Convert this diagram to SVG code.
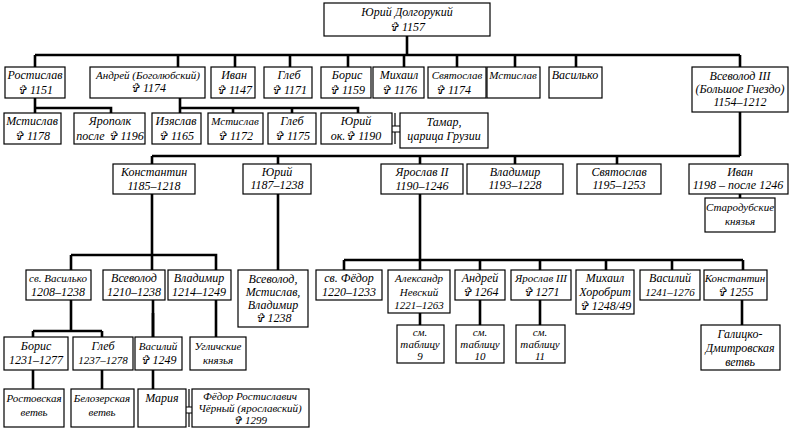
<svg xmlns="http://www.w3.org/2000/svg" width="789" height="433" viewBox="0 0 789 433">
<style>
rect{fill:#fff;stroke:#000;stroke-width:1.2}
text{font-family:"Liberation Serif","Times New Roman",serif;font-style:italic;font-size:12px;text-anchor:middle;fill:#000}
.s{font-size:11px}
#conn path{fill:none;stroke:#000;stroke-width:2.6}
.m{fill:none;stroke:#000;stroke-width:1.2}
</style>
<rect width="789" height="433" style="stroke:none"/>
<g id="conn">
<path d="M407 36V55M35 55H740M35 55V67M178 55V67M235 55V67M290 55V67M348 55V67M404 55V67M457 55V67M515 55V67M576 55V67M740 55V67"/>
<path d="M35 98V113M35 108H111V113"/>
<path d="M180 98V113M180 108H358V113M233 108V113M292 108V113"/>
<path d="M740 112V156M152 156H740M152 156V164M278 156V164M420 156V164M515 156V164M617 156V164M740 194V198"/>
<path d="M152 194V270M71 255H216V270M71 255V270"/>
<path d="M278 194V270"/>
<path d="M420 194V270M344 260H743M344 260V270M480 260V270M540 260V270M606 260V270M672 260V270M743 260V270"/>
<path d="M71 300V331M33 331H102M33 331V337M102 331V337M153 300V337M216 300V337"/>
<path d="M33 370V389M102 370V389M153 313V389"/>
<path d="M420 313V325M480 300V325M540 300V325M742 300V325"/>
</g>
<path class="m" d="M392 126H400M392 132H400M395 113V126M395 132V144"/>
<path class="m" d="M186 407H192M186 413H192M189 389V407M189 413V427"/>
<g id="n-yuri"><rect x="324" y="3" width="166" height="33"/><text x="407" y="16">Юрий Долгорукий</text><text x="407" y="31">✞ 1157</text></g>
<g id="n-rostislav"><rect x="5" y="67" width="60" height="31"/><text x="35" y="79">Ростислав</text><text x="35" y="94">✞ 1151</text></g>
<g id="n-andrei"><rect x="90" y="67" width="115" height="31"/><text x="148" y="79" class="s">Андрей (Боголюбский)</text><text x="148" y="92">✞ 1174</text></g>
<g id="n-ivan"><rect x="211" y="67" width="44" height="31"/><text x="234" y="79">Иван</text><text x="234" y="94">✞ 1147</text></g>
<g id="n-gleb"><rect x="264" y="67" width="48" height="31"/><text x="289" y="79">Глеб</text><text x="289" y="94">✞ 1171</text></g>
<g id="n-boris"><rect x="321" y="67" width="50" height="31"/><text x="347" y="79">Борис</text><text x="347" y="94">✞ 1159</text></g>
<g id="n-mikhail"><rect x="373" y="67" width="51" height="31"/><text x="399" y="79">Михаил</text><text x="399" y="94">✞ 1176</text></g>
<g id="n-svyatoslav"><rect x="428" y="67" width="58" height="31"/><text x="457" y="79" class="s">Святослав</text><text x="453" y="94">✞ 1174</text></g>
<g id="n-mstislav"><rect x="487" y="67" width="53" height="31"/><text x="513" y="79" class="s">Мстислав</text></g>
<g id="n-vasilko"><rect x="549" y="67" width="53" height="31"/><text x="575" y="79">Василько</text></g>
<g id="n-vsevolod3"><rect x="692" y="67" width="96" height="45"/><text x="740" y="80">Всеволод III</text><text x="740" y="93">(Большое Гнездо)</text><text x="740" y="106">1154–1212</text></g>
<g id="n-mstislav2"><rect x="4" y="113" width="57" height="31"/><text x="32" y="125">Мстислав</text><text x="32" y="140">✞ 1178</text></g>
<g id="n-yaropolk"><rect x="74" y="113" width="71" height="31"/><text x="110" y="125">Ярополк</text><text x="110" y="140">после ✞ 1196</text></g>
<g id="n-izyaslav"><rect x="152" y="113" width="49" height="31"/><text x="176" y="125">Изяслав</text><text x="176" y="140">✞ 1165</text></g>
<g id="n-mstislav3"><rect x="208" y="113" width="55" height="31"/><text x="235" y="125" class="s">Мстислав</text><text x="235" y="140">✞ 1172</text></g>
<g id="n-gleb2"><rect x="268" y="113" width="48" height="31"/><text x="292" y="125">Глеб</text><text x="292" y="140">✞ 1175</text></g>
<g id="n-yuri2"><rect x="321" y="113" width="71" height="31"/><text x="356" y="125">Юрий</text><text x="356" y="140">ок.✞ 1190</text></g>
<g id="n-tamar"><rect x="400" y="113" width="88" height="35"/><text x="444" y="126">Тамар,</text><text x="444" y="140">царица Грузии</text></g>
<g id="n-konstantin"><rect x="113" y="164" width="82" height="30"/><text x="154" y="176">Константин</text><text x="154" y="190">1185–1218</text></g>
<g id="n-yuri3"><rect x="243" y="164" width="68" height="30"/><text x="277" y="176">Юрий</text><text x="277" y="189">1187–1238</text></g>
<g id="n-yaroslav2"><rect x="381" y="164" width="82" height="30"/><text x="422" y="176">Ярослав II</text><text x="422" y="190">1190–1246</text></g>
<g id="n-vladimir"><rect x="467" y="164" width="96" height="30"/><text x="515" y="176">Владимир</text><text x="515" y="189">1193–1228</text></g>
<g id="n-svyatoslav2"><rect x="577" y="164" width="84" height="30"/><text x="619" y="176">Святослав</text><text x="619" y="189">1195–1253</text></g>
<g id="n-ivan2"><rect x="689" y="164" width="99" height="30"/><text x="740" y="176">Иван</text><text x="738" y="189">1198 – после 1246</text></g>
<g id="n-starodub"><rect x="705" y="198" width="70" height="34"/><text x="740" y="211" class="s">Стародубские</text><text x="740" y="225" class="s">князья</text></g>
<g id="n-vasilko2"><rect x="26" y="270" width="65" height="30"/><text x="58" y="282" class="s">св. Василько</text><text x="58" y="296">1208–1238</text></g>
<g id="n-vsevolod"><rect x="103" y="270" width="62" height="30"/><text x="134" y="282">Всеволод</text><text x="134" y="296">1210–1238</text></g>
<g id="n-vladimir2"><rect x="168" y="270" width="63" height="30"/><text x="199" y="282">Владимир</text><text x="199" y="296">1214–1249</text></g>
<g id="n-vsevolodm"><rect x="238" y="270" width="70" height="57"/><text x="273" y="283">Всеволод,</text><text x="273" y="296">Мстислав,</text><text x="273" y="309">Владимир</text><text x="273" y="322">✞ 1238</text></g>
<g id="n-fedor"><rect x="316" y="270" width="66" height="30"/><text x="349" y="282">св. Фёдор</text><text x="349" y="296">1220–1233</text></g>
<g id="n-aleksandr"><rect x="388" y="270" width="62" height="43"/><text x="419" y="282" class="s">Александр</text><text x="419" y="296" class="s">Невский</text><text x="419" y="309" class="s">1221–1263</text></g>
<g id="n-andrei2"><rect x="455" y="270" width="50" height="30"/><text x="480" y="282">Андрей</text><text x="480" y="296">✞ 1264</text></g>
<g id="n-yaroslav3"><rect x="511" y="270" width="60" height="30"/><text x="541" y="282" class="s">Ярослав III</text><text x="541" y="296">✞ 1271</text></g>
<g id="n-mikhail2"><rect x="576" y="270" width="58" height="44"/><text x="605" y="282">Михаил</text><text x="605" y="296">Хоробрит</text><text x="605" y="310">✞ 1248/49</text></g>
<g id="n-vasily"><rect x="640" y="270" width="60" height="30"/><text x="670" y="282">Василий</text><text x="670" y="296" class="s">1241–1276</text></g>
<g id="n-konstantin2"><rect x="704" y="270" width="63" height="30"/><text x="735" y="282" class="s">Константин</text><text x="735" y="296">✞ 1255</text></g>
<g id="n-boris2"><rect x="4" y="337" width="64" height="33"/><text x="36" y="350">Борис</text><text x="36" y="364">1231–1277</text></g>
<g id="n-gleb3"><rect x="73" y="337" width="60" height="33"/><text x="103" y="350">Глеб</text><text x="103" y="364" class="s">1237–1278</text></g>
<g id="n-vasily2"><rect x="135" y="337" width="47" height="33"/><text x="158" y="350" class="s">Василий</text><text x="158" y="364">✞ 1249</text></g>
<g id="n-uglich"><rect x="190" y="337" width="56" height="33"/><text x="218" y="350" class="s">Угличские</text><text x="218" y="364" class="s">князья</text></g>
<g id="n-t9"><rect x="397" y="325" width="47" height="38"/><text x="420" y="336" class="s">см.</text><text x="420" y="348" class="s">таблицу</text><text x="420" y="360" class="s">9</text></g>
<g id="n-t10"><rect x="456" y="325" width="48" height="38"/><text x="480" y="336" class="s">см.</text><text x="480" y="348" class="s">таблицу</text><text x="480" y="360" class="s">10</text></g>
<g id="n-t11"><rect x="516" y="325" width="49" height="38"/><text x="540" y="336" class="s">см.</text><text x="540" y="348" class="s">таблицу</text><text x="540" y="360" class="s">11</text></g>
<g id="n-galich"><rect x="701" y="325" width="79" height="45"/><text x="740" y="338">Галицко-</text><text x="740" y="352">Дмитровская</text><text x="740" y="366">ветвь</text></g>
<g id="n-rostov"><rect x="4" y="389" width="60" height="38"/><text x="34" y="402" class="s">Ростовская</text><text x="34" y="416" class="s">ветвь</text></g>
<g id="n-belozer"><rect x="71" y="389" width="63" height="38"/><text x="102" y="402" class="s">Белозерская</text><text x="102" y="416" class="s">ветвь</text></g>
<g id="n-maria"><rect x="138" y="389" width="48" height="38"/><text x="162" y="402">Мария</text></g>
<g id="n-fedor2"><rect x="192" y="389" width="117" height="38"/><text x="250" y="400" class="s">Фёдор Ростиславич</text><text x="250" y="412" class="s">Чёрный (ярославский)</text><text x="250" y="424" class="s">✞ 1299</text></g>
</svg>
